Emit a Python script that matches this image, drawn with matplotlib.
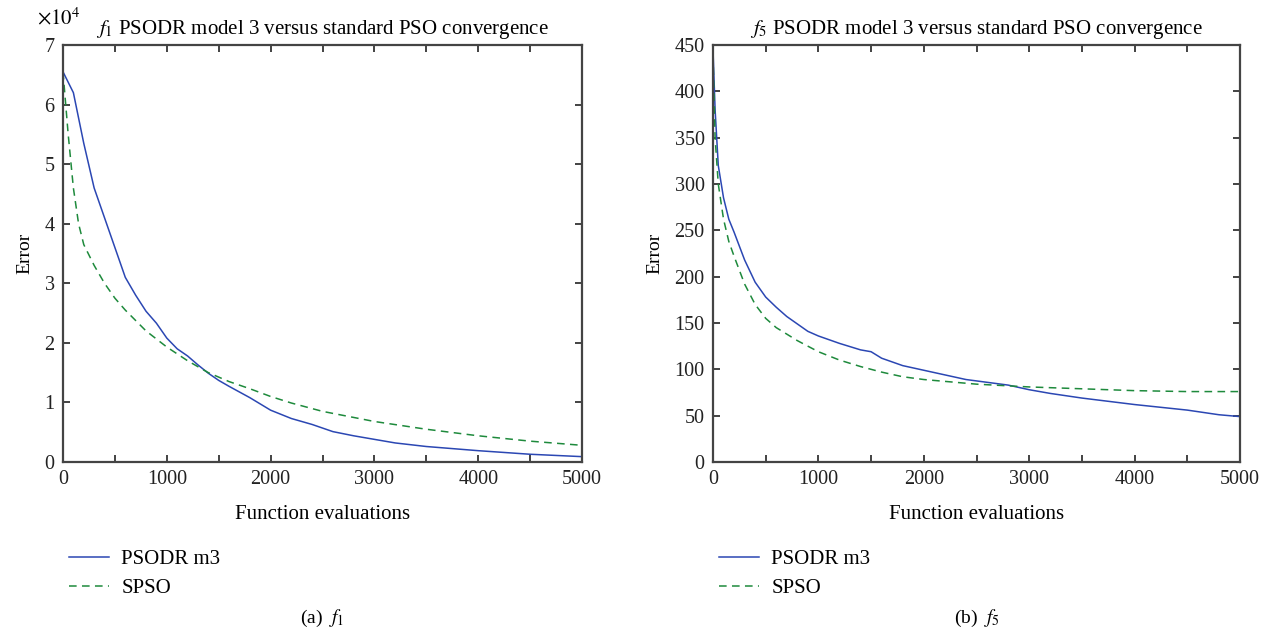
import matplotlib
matplotlib.use("Agg")
import matplotlib.pyplot as plt
from matplotlib.ticker import FuncFormatter

plt.rcParams['font.family'] = ['Liberation Serif', 'DejaVu Serif']
plt.rcParams['mathtext.fontset'] = 'stix'

# f1 convergence (error values)
f1_evals_m3 = [0, 100, 200, 300, 400, 500, 600, 700, 800, 900, 1000, 1100, 1200, 1300,
               1400, 1500, 1600, 1800, 2000, 2200, 2400, 2600, 2800, 3000, 3200, 3500,
               4000, 4500, 5000]
f1_psodr = [65500, 62000, 53500, 46000, 41000, 36000, 31000, 28000, 25300, 23300, 20800,
            19000, 17800, 16300, 14900, 13700, 12700, 10800, 8700, 7300, 6300, 5100, 4400,
            3800, 3200, 2600, 1900, 1300, 900]
f1_evals_sp = [0, 50, 100, 150, 200, 300, 400, 500, 600, 800, 1000, 1200, 1400, 1600,
               1800, 2000, 2200, 2500, 3000, 3500, 4000, 4500, 5000]
f1_spso = [65500, 55000, 46000, 40000, 36500, 33000, 30000, 27500, 25500, 22000, 19300,
           17000, 15000, 13500, 12300, 11000, 9900, 8500, 6800, 5500, 4400, 3500, 2800]

# f5 convergence (error values)
f5_evals_m3 = [0, 20, 50, 100, 150, 200, 300, 400, 500, 600, 700, 800, 900, 1000, 1200,
               1400, 1500, 1600, 1800, 2000, 2200, 2400, 2600, 2800, 3000, 3200, 3500,
               4000, 4500, 4800, 5000]
f5_psodr = [445, 380, 320, 285, 262, 248, 218, 194, 178, 167, 157, 149, 141, 136, 128,
            121, 119, 112, 104, 99, 94, 89, 86, 83, 78, 74, 69, 62, 56, 51, 49]
f5_evals_sp = [0, 20, 50, 100, 150, 200, 300, 400, 500, 600, 800, 1000, 1200, 1400, 1600,
               1800, 2000, 2500, 3000, 3500, 4000, 4500, 5000]
f5_spso = [440, 350, 300, 262, 238, 222, 192, 170, 155, 145, 131, 119, 110, 103, 97,
           92, 89, 84, 81, 79, 77, 76, 76]

blue = '#2b47b3'
green = '#1e8a3c'
W, H = 1271, 633
fig = plt.figure(figsize=(W / 100, H / 100), dpi=100)


def make_panel(left_px, width_px, xm3, ym3, xsp, ysp, ymax, yticks, title, caption, scale):
    ax = fig.add_axes([left_px / W, 1 - 462 / H, width_px / W, (462 - 45) / H])
    ax.plot(xm3, ym3, color=blue, lw=1.1, label='PSODR m3')
    ax.plot(xsp, ysp, color=green, lw=1.1, ls=(0, (5, 3.5)), label='SPSO')
    ax.set_xlim(0, 5000)
    ax.set_ylim(0, ymax)
    ax.set_xticks(range(0, 5001, 1000))
    ax.set_xticks(range(0, 5001, 500), minor=True)
    ax.set_yticks(yticks)
    ax.tick_params(which='both', direction='in', top=True, right=True, labelsize=14.5,
                   length=5, width=1.2, colors='#222222', pad=6)
    for s in ax.spines.values():
        s.set_color('#444444')
        s.set_linewidth(1.6)
    if scale != 1:
        # ticks in units of 1e4, multiplier written above the axis
        ax.yaxis.set_major_formatter(FuncFormatter(lambda v, p: '%g' % (v / scale)))
        fig.text(37 / W, 1 - 19 / H, r'$\times10^4$', fontsize=15, va='center')
    ax.set_xlabel('Function evaluations', fontsize=15, labelpad=11)
    ax.set_ylabel('Error', fontsize=14, labelpad=8)
    ax.set_title(title, fontsize=15, pad=8)
    ax.legend(loc='upper left', bbox_to_anchor=(-0.024, -0.165), frameon=False,
              fontsize=15, handlelength=1.9, labelspacing=0.45, handletextpad=0.6)
    cx = (left_px + width_px / 2) / W
    fig.text(cx, 1 - 618 / H, caption, ha='center', va='center', fontsize=14)
    return ax


make_panel(63, 519, f1_evals_m3, f1_psodr, f1_evals_sp, f1_spso, 70000,
           range(0, 70001, 10000), r'$f_1$ PSODR model 3 versus standard PSO convergence',
           r'(a)  $f_1$', 10000)
make_panel(713, 527, f5_evals_m3, f5_psodr, f5_evals_sp, f5_spso, 450,
           range(0, 451, 50), r'$f_5$ PSODR model 3 versus standard PSO convergence',
           r'(b)  $f_5$', 1)

fig.savefig('out.png', dpi=100)
